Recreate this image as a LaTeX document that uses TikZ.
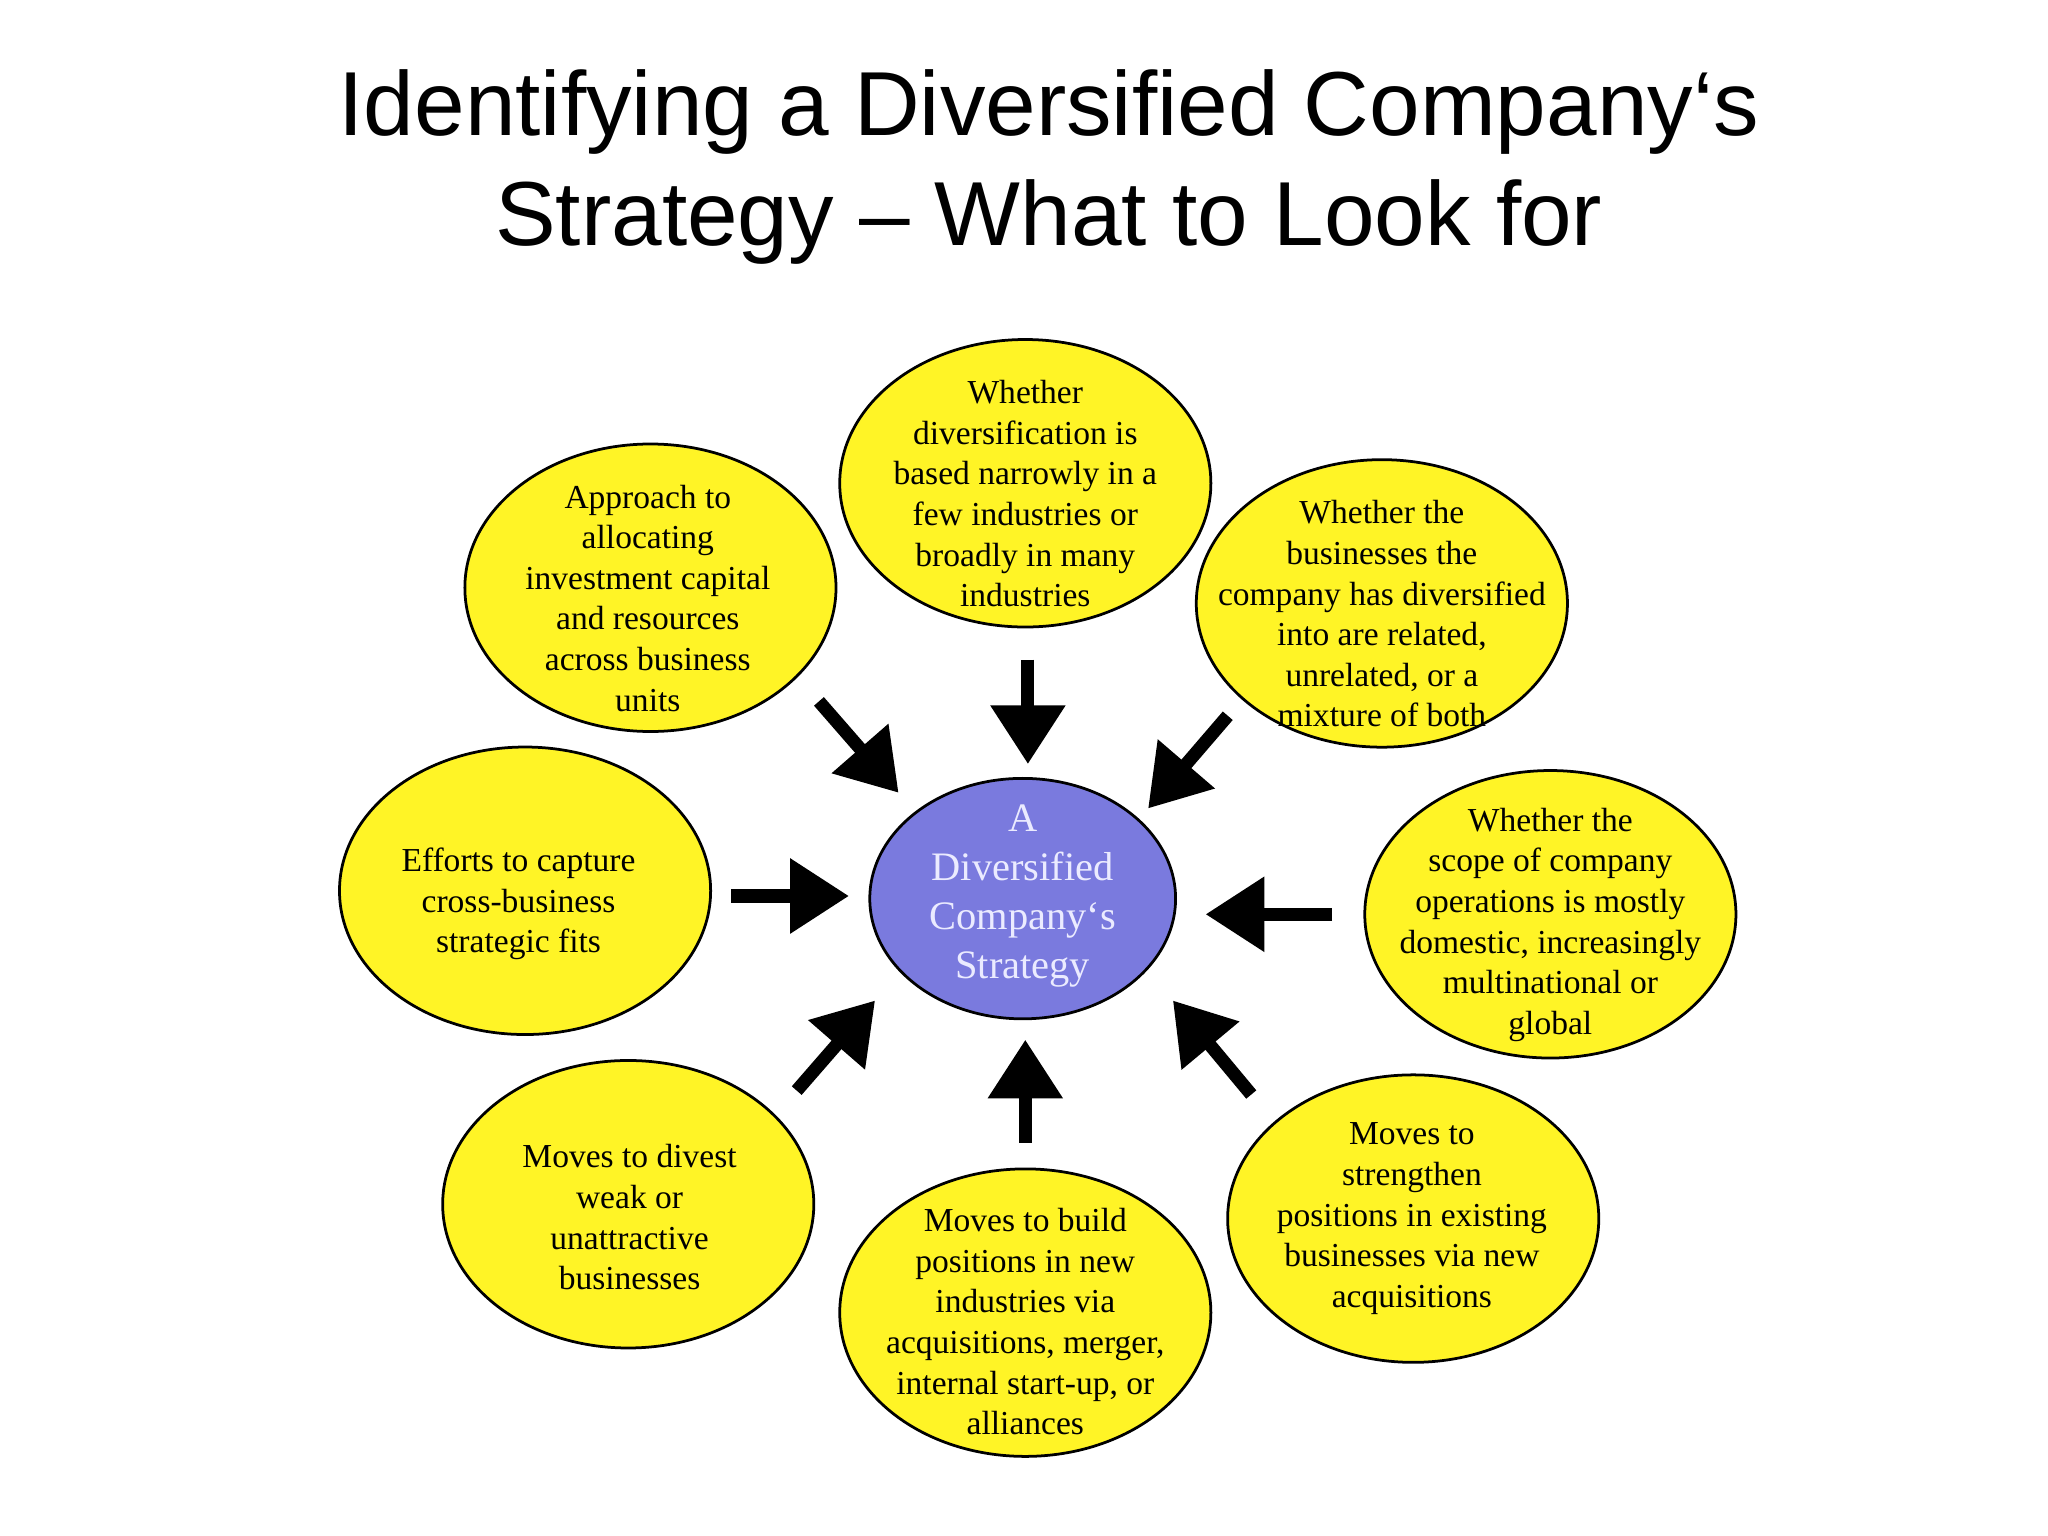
\documentclass[tikz,border=0pt]{standalone}
\usepackage{fontspec}
\setmainfont{Liberation Serif}
\newfontfamily\titlefont{Liberation Sans}
\usetikzlibrary{arrows.meta,shapes.geometric}
\begin{document}
\begin{tikzpicture}[x=0.01cm,y=-0.01cm,
  bub/.style={ellipse,draw=black,line width=0.6pt,fill=yellow!85!white,minimum width=2.84cm,minimum height=2.2cm,inner sep=0pt},
  btext/.style={align=center,inner sep=0pt,font=\fontsize{7.3}{8.85}\selectfont},
  hub/.style={ellipse,draw=black,line width=0.6pt,fill={rgb,255:red,122;green,122;blue,222},minimum width=2.34cm,minimum height=1.84cm,inner sep=0pt},
  htext/.style={align=center,inner sep=0pt,text=white!92!blue,font=\fontsize{8.8}{10.6}\selectfont},
  bigarrow/.style={line width=0.1cm,-{Triangle[length=0.45cm,width=0.55cm]}}]
\useasboundingbox[fill=white] (0,0) rectangle (1568,1176);
\node[font=\titlefont\fontsize{19.8}{24}\selectfont,align=center] (title) at (803,128) {Identifying a Diversified Company‘s\\Strategy – What to Look for};
\node[hub] (c) at (783,688) {}; \node[htext] (ct) at (783,686) {A\\Diversified\\Company‘s\\Strategy};
\node[bub] (t) at (785,370) {}; \node[btext] (tt) at (785,378) {Whether\\diversification is\\based narrowly in a\\few industries or\\broadly in many\\industries};
\node[bub] (ul) at (498,450) {}; \node[btext] (ult) at (496,458) {Approach to\\allocating\\investment capital\\and resources\\across business\\units};
\node[bub] (ur) at (1058,462) {}; \node[btext] (urt) at (1058,470) {Whether the\\businesses the\\company has diversified\\into are related,\\unrelated, or a\\mixture of both};
\node[bub] (l) at (402,682) {}; \node[btext] (lt) at (397,692) {Efforts to capture\\cross-business\\strategic fits};
\node[bub] (r) at (1187,700) {}; \node[btext] (rt) at (1187,708) {Whether the\\scope of company\\operations is mostly\\domestic, increasingly\\multinational or\\global};
\node[bub] (ll) at (481,922) {}; \node[btext] (llt) at (482,932) {Moves to divest\\weak or\\unattractive\\businesses};
\node[bub] (b) at (785,1005) {}; \node[btext] (bt) at (785,1012) {Moves to build\\positions in new\\industries via\\acquisitions, merger,\\internal start-up, or\\alliances};
\node[bub] (lr) at (1082,933) {}; \node[btext] (lrt) at (1081,933) {Moves to\\strengthen\\positions in existing\\businesses via new\\acquisitions};
\coordinate (ta) at (787,505); \coordinate (tb) at (787,585);
\coordinate (ula) at (627,537); \coordinate (ulb) at (688,607);
\coordinate (ura) at (940,548); \coordinate (urb) at (879,619);
\coordinate (la) at (560,686); \coordinate (lb) at (650,686);
\coordinate (ra) at (1020,700); \coordinate (rb) at (923,700);
\coordinate (lla) at (610,835); \coordinate (llb) at (670,766);
\coordinate (ba) at (785,875); \coordinate (bb) at (785,796);
\coordinate (lra) at (958,838); \coordinate (lrb) at (898,766);
\foreach \a/\b in {ta/tb,ula/ulb,ura/urb,la/lb,ra/rb,lla/llb,ba/bb,lra/lrb}
  \draw[bigarrow] (\a) -- (\b);
\end{tikzpicture}
\end{document}
